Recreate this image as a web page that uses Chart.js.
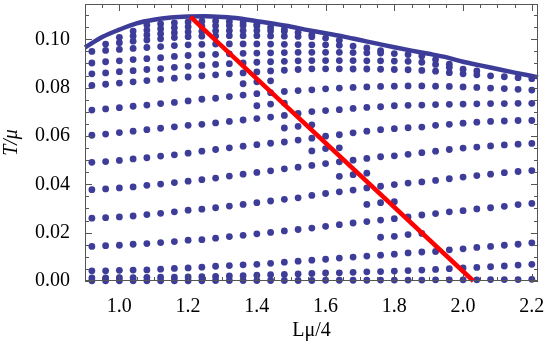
<!DOCTYPE html>
<html>
<head>
<meta charset="utf-8">
<script src="https://cdn.jsdelivr.net/npm/chart.js@4.4.1/dist/chart.umd.min.js"></script>
<style>
  html, body { margin: 0; padding: 0; background: #fff; }
  canvas { display: block; }
</style>
</head>
<body>
<canvas id="grafico" width="545" height="349"></canvas>
<script>
// columnas de L (L mu / 4)
var L = [0.92, 0.96, 1.00, 1.04, 1.08, 1.12, 1.16, 1.20, 1.24, 1.28, 1.32, 1.36, 1.40, 1.44, 1.48, 1.52, 1.56,
         1.60, 1.64, 1.68, 1.72, 1.76, 1.80, 1.84, 1.88, 1.92, 1.96, 2.00, 2.04, 2.08, 2.12, 2.16, 2.20];

// filas de puntos (T / mu), de abajo hacia arriba
var filaG = [0.0001, 0.0001, 0.0001, 0.0001, 0.0001, 0.0001, 0.0001, 0.0001, 0.0001, 0.0002, 0.0002, 0.0002, 0.0002, 0.0002, 0.0002, 0.0002, 0.0002,
             0.0003, 0.0003, 0.0003, 0.0003, 0.0004, 0.0004, 0.0004, 0.0004, 0.0005, 0.0005, 0.0005, 0.0005, 0.0006, 0.0006, 0.0006, 0.0007];
var filaF = [0.0013, 0.0013, 0.0014, 0.0014, 0.0015, 0.0016, 0.0016, 0.0017, 0.0018, 0.0019, 0.0021, 0.0022, 0.0024, 0.0026, 0.0027, 0.0029, 0.0031,
             0.0033, 0.0034, 0.0036, 0.0038, 0.0039, 0.0041, 0.0043, 0.0045, 0.0048, 0.0051, 0.0054, 0.0056, 0.0059, 0.0062, 0.0066, 0.0069];
var filaE = [0.0042, 0.0042, 0.0044, 0.0045, 0.0046, 0.0049, 0.0052, 0.0054, 0.0057, 0.0061, 0.0064, 0.0067, 0.0069, 0.0073, 0.0078, 0.0082, 0.0086,
             0.0090, 0.0095, 0.0099, 0.0103, 0.0107, 0.0111, 0.0116, 0.0120, 0.0122, 0.0129, 0.0133, 0.0139, 0.0143, 0.0148, 0.0152, 0.0158];
var filaD = [0.0143, 0.0146, 0.0148, 0.0152, 0.0155, 0.0159, 0.0163, 0.0169, 0.0171, 0.0177, 0.0184, 0.0189, 0.0195, 0.0201, 0.0207, 0.0213, 0.0219,
             0.0226, 0.0233, 0.0240, 0.0246, 0.0252, 0.0258, 0.0265, 0.0273, 0.0279, 0.0286, 0.0291, 0.0298, 0.0303, 0.0309, 0.0316, 0.0321];
var filaC = [0.0260, 0.0262, 0.0265, 0.0269, 0.0275, 0.0280, 0.0286, 0.0293, 0.0297, 0.0303, 0.0310, 0.0317, 0.0324, 0.0331, 0.0338, 0.0344, 0.0354,
             0.0362, 0.0369, 0.0376, 0.0385, 0.0392, 0.0399, 0.0405, 0.0410, 0.0416, 0.0423, 0.0430, 0.0436, 0.0442, 0.0448, 0.0453, 0.0457];
var filaB = [0.0378, 0.0381, 0.0385, 0.0389, 0.0396, 0.0401, 0.0407, 0.0413, 0.0419, 0.0426, 0.0434, 0.0442, 0.0449, 0.0456, 0.0464, 0.0471, 0.0478,
             0.0486, 0.0493, 0.0500, 0.0507, 0.0514, 0.0518, 0.0524, 0.0531, 0.0537, 0.0544, 0.0550, 0.0554, 0.0559, 0.0563, 0.0566, 0.0569];
var filaA = [0.0491, 0.0494, 0.0499, 0.0505, 0.0510, 0.0517, 0.0522, 0.0529, 0.0537, 0.0544, 0.0551, 0.0558, 0.0564, 0.0570, 0.0575, 0.0583, 0.0591,
             0.0599, 0.0605, 0.0613, 0.0620, 0.0626, 0.0630, 0.0634, 0.0637, 0.0644, 0.0648, 0.0653, 0.0657, 0.0660, 0.0662, 0.0664, 0.0664];
var filaH = [0.0603, 0.0608, 0.0614, 0.0620, 0.0626, 0.0632, 0.0638, 0.0644, 0.0648, 0.0654, 0.0660, 0.0666, 0.0672, 0.0678, 0.0685, 0.0693, 0.0701,
             0.0705, 0.0709, 0.0714, 0.0718, 0.0721, 0.0725, 0.0727, 0.0728, 0.0730, 0.0731, 0.0732, 0.0733, 0.0734, 0.0734, 0.0735, 0.0735];
var filaI = [0.0707, 0.0712, 0.0717, 0.0723, 0.0728, 0.0734, 0.0739, 0.0745, 0.0752, 0.0756, 0.0763, 0.0769, 0.0775, 0.0779, 0.0784, 0.0788, 0.0791,
             0.0795, 0.0798, 0.0801, 0.0803, 0.0805, 0.0806, 0.0807, 0.0807, 0.0806, 0.0805, 0.0803, 0.0801, 0.0798, 0.0796, 0.0793, 0.0790];
var filaJ = [0.0809, 0.0814, 0.0819, 0.0824, 0.0829, 0.0834, 0.0839, 0.0844, 0.0849, 0.0853, 0.0857, 0.0861, 0.0865, 0.0869, 0.0872, 0.0875, 0.0878,
             0.0878, 0.0878, 0.0877, 0.0877, 0.0876, 0.0875, 0.0874, 0.0871, 0.0868, 0.0862, 0.0857, 0.0853, 0.0849, 0.0845, 0.0841, 0.0837];
var filaK = [0.0857, 0.0861, 0.0866, 0.0870, 0.0875, 0.0879, 0.0884, 0.0888, 0.0892, 0.0896, 0.0899, 0.0902, 0.0905, 0.0907, 0.0909, 0.0911, 0.0912,
             0.0912, 0.0912, 0.0912, 0.0911, 0.0911, 0.0910, 0.0909, 0.0905, 0.0896, 0.0884, 0.0876, 0.0869, null, null, null, null];
var filaM = [0.0902, 0.0907, 0.0911, 0.0916, 0.0920, 0.0924, 0.0929, 0.0933, 0.0936, 0.0938, 0.0940, 0.0942, 0.0943, 0.0944, 0.0945, 0.0946, 0.0946,
             0.0946, 0.0946, 0.0945, 0.0944, 0.0943, 0.0941, 0.0937, 0.0931, 0.0916, 0.0897, null, null, null, null, null, null];
var filaN = [0.0950, 0.0954, 0.0958, 0.0962, 0.0966, 0.0970, 0.0974, 0.0977, 0.0979, 0.0980, 0.0981, 0.0981, 0.0981, 0.0980, 0.0979, 0.0978, 0.0977,
             0.0977, 0.0975, 0.0972, 0.0964, 0.0953, null, null, null, null, null, null, null, null, null, null, null];
var filaS1 = [null, 0.0980, 0.0986, 0.0992, 0.0997, 0.1002, 0.1007, 0.1011, 0.1013, 0.1014, 0.1015, 0.1015, 0.1015, 0.1014, 0.1013, 0.1012, 0.1011,
              0.1005, 0.0996, null, null, null, null, null, null, null, null, null, null, null, null, null, null];
var filaS2 = [null, null, 0.1008, 0.1014, 0.1018, 0.1023, 0.1027, 0.1031, 0.1033, 0.1035, 0.1036, 0.1036, 0.1036, 0.1035, 0.1033, 0.1028, 0.1019,
              null, null, null, null, null, null, null, null, null, null, null, null, null, null, null, null];
var filaS3 = [null, null, null, 0.1034, 0.1038, 0.1044, 0.1048, 0.1052, 0.1054, 0.1056, 0.1057, 0.1057, 0.1055, 0.1050, 0.1042, null, null,
              null, null, null, null, null, null, null, null, null, null, null, null, null, null, null, null];
var filaS4 = [null, null, null, null, 0.1059, 0.1064, 0.1068, 0.1072, 0.1075, 0.1076, 0.1074, 0.1069, 0.1062, null, null, null, null,
              null, null, null, null, null, null, null, null, null, null, null, null, null, null, null, null];

// tramos cortos junto a la linea roja
var cortosL = [[1.36, 1.40, 1.44], [1.40, 1.44, 1.48], [1.48, 1.52, 1.56], [1.56, 1.60, 1.64],
               [1.64, 1.68, 1.72], [1.72, 1.76, 1.80], [1.76, 1.80, 1.84, 1.88]];
var cortosT = [[0.0816, 0.0824, 0.0828], [0.0725, 0.0732, 0.0736], [0.0633, 0.0640, 0.0646], [0.0538, 0.0548, 0.0551],
               [0.0433, 0.0440, 0.0446], [0.0317, 0.0324, 0.0328], [0.0181, 0.0185, 0.0192, 0.0197]];

// curva superior (temperatura maxima)
var curvaL = [0.90, 0.95, 1.00, 1.05, 1.10, 1.15, 1.20, 1.25, 1.30, 1.35, 1.40, 1.45, 1.50, 1.55, 1.60,
              1.65, 1.70, 1.75, 1.80, 1.85, 1.90, 1.95, 2.00, 2.05, 2.10, 2.15, 2.20, 2.218];
var curvaT = [0.0966, 0.1009, 0.1040, 0.1066, 0.1081, 0.1090, 0.1094, 0.1095, 0.1092, 0.1086, 0.1075, 0.1064, 0.1052, 0.1038, 0.1025,
              0.1012, 0.0997, 0.0982, 0.0967, 0.0953, 0.0940, 0.0926, 0.0907, 0.0892, 0.0877, 0.0862, 0.0848, 0.0843];

// linea roja
var rojaL = [1.207, 2.03];
var rojaT = [0.1093, 0.0];

// marcas de los ejes
var ticksX = [1.0, 1.2, 1.4, 1.6, 1.8, 2.0, 2.2];
var ticksY = [0.00, 0.02, 0.04, 0.06, 0.08, 0.10];

var azul = '#3d3d99';
var fuente = "'Liberation Serif', 'DejaVu Serif', serif";

function puntos(xs, ys) {
    var res = [];
    for (var i = 0; i < xs.length; i++) {
        if (ys[i] !== null) res.push({ x: xs[i], y: ys[i] });
    }
    return res;
}

var datasets = [];
datasets.push({
    data: puntos(rojaL, rojaT),
    showLine: true, borderColor: '#ff0000', borderWidth: 4.5,
    pointRadius: 0, order: 0, clip: false
});
datasets.push({
    data: puntos(curvaL, curvaT),
    showLine: true, borderColor: azul, borderWidth: 4.5, cubicInterpolationMode: 'monotone',
    pointRadius: 0, order: 1, clip: false
});

var filas = [filaG, filaF, filaE, filaD, filaC, filaB, filaA, filaH, filaI, filaJ, filaK, filaM, filaN,
             filaS1, filaS2, filaS3, filaS4];
filas.forEach(function (f) {
    datasets.push({
        data: puntos(L, f), showLine: false,
        pointRadius: 3.4, pointBackgroundColor: azul, pointBorderWidth: 0,
        order: 2, clip: false
    });
});
for (var c = 0; c < cortosL.length; c++) {
    datasets.push({
        data: puntos(cortosL[c], cortosT[c]), showLine: false,
        pointRadius: 3.4, pointBackgroundColor: azul, pointBorderWidth: 0,
        order: 2, clip: false
    });
}

// marco con marcas hacia adentro, estilo Mathematica
var marco = {
    id: 'marco',
    afterDatasetsDraw: function (chart) {
        var ctx = chart.ctx, a = chart.chartArea;
        var sx = chart.scales.x, sy = chart.scales.y;
        ctx.save();
        ctx.strokeStyle = '#555';
        ctx.lineWidth = 1;
        ctx.strokeRect(a.left + 0.5, a.top + 0.5, a.right - a.left - 1, a.bottom - a.top - 1);
        var i, v, p, len;
        for (i = 0; i <= 26; i++) {
            v = 0.9 + i * 0.05;
            p = Math.round(sx.getPixelForValue(v)) + 0.5;
            len = (Math.abs(v * 5 - Math.round(v * 5)) < 1e-6) ? 7 : 4;
            ctx.beginPath();
            ctx.moveTo(p, a.bottom); ctx.lineTo(p, a.bottom - len);
            ctx.moveTo(p, a.top); ctx.lineTo(p, a.top + len);
            ctx.stroke();
        }
        for (i = 0; i <= 22; i++) {
            v = i * 0.005;
            p = Math.round(sy.getPixelForValue(v)) + 0.5;
            len = (i % 4 === 0) ? 7 : 4;
            ctx.beginPath();
            ctx.moveTo(a.left, p); ctx.lineTo(a.left + len, p);
            ctx.moveTo(a.right, p); ctx.lineTo(a.right - len, p);
            ctx.stroke();
        }
        ctx.restore();
    }
};

new Chart(document.getElementById('grafico'), {
    type: 'scatter',
    data: { datasets: datasets },
    options: {
        responsive: false,
        animation: false,
        layout: { padding: { left: 0, right: 7, top: 1, bottom: 0 } },
        plugins: { legend: { display: false }, tooltip: { enabled: false } },
        scales: {
            x: {
                type: 'linear', min: 0.9, max: 2.218,
                grid: { display: false }, border: { display: false },
                afterBuildTicks: function (s) { s.ticks = ticksX.map(function (v) { return { value: v }; }); },
                afterFit: function (s) {
                    s.height = 68;
                    s.paddingLeft = 0; s.paddingRight = 0;
                },
                ticks: {
                    autoSkip: false, maxRotation: 0, padding: 6, color: '#000',
                    font: { family: fuente, size: 20 },
                    callback: function (v) { return Number(v).toFixed(1); }
                },
                title: {
                    display: true, text: 'Lμ/4', color: '#000',
                    font: { family: fuente, size: 20 }, padding: { top: 0, bottom: 6 }
                }
            },
            y: {
                type: 'linear', min: 0, max: 0.1146,
                grid: { display: false }, border: { display: false },
                afterBuildTicks: function (s) { s.ticks = ticksY.map(function (v) { return { value: v }; }); },
                afterFit: function (s) {
                    s.width = 85;
                    s.paddingTop = 0; s.paddingBottom = 0;
                },
                ticks: {
                    autoSkip: false, padding: 7, color: '#000',
                    font: { family: fuente, size: 20 },
                    callback: function (v) { return Number(v).toFixed(2); }
                },
                title: {
                    display: true, text: 'T/μ', color: '#000',
                    font: { family: fuente, size: 20, style: 'italic' }, padding: { top: 0, bottom: 1 }
                }
            }
        }
    },
    plugins: [marco]
});
</script>
</body>
</html>
